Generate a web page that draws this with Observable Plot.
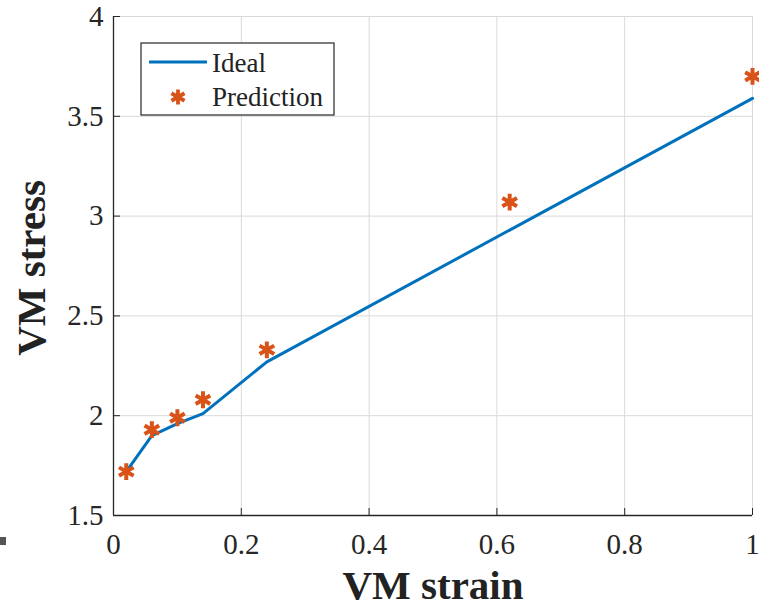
<!DOCTYPE html>
<html>
<head>
<meta charset="utf-8">
<script src="https://cdn.jsdelivr.net/npm/d3@7"></script>
<script src="https://cdn.jsdelivr.net/npm/@observablehq/plot@0.6"></script>
<style>
  body { margin: 0; background: #fff; }
  #chart { position: relative; width: 759px; height: 608px; }
  #chart svg, #chart svg text { font-family: "Liberation Serif", "DejaVu Serif", serif !important; }
  .mark { position: absolute; left: 0; top: 537px; width: 6px; height: 8px; background: #555; }
</style>
</head>
<body>
<div id="chart"><div class="mark"></div></div>
<script>
const strain = [0.02, 0.06, 0.10, 0.14, 0.24, 0.62, 1.0];
const idealStress = [1.72, 1.90, 1.96, 2.01, 2.27, 2.93, 3.59];
const predStrain = [0.02, 0.06, 0.10, 0.14, 0.24, 0.62, 1.0];
const predStress = [1.72, 1.93, 1.99, 2.08, 2.33, 3.07, 3.70];
const xTicks = [0, 0.2, 0.4, 0.6, 0.8, 1];
const yTicks = [1.5, 2, 2.5, 3, 3.5, 4];
const seriesNames = ["Ideal", "Prediction"];
const xLabel = "VM strain";
const yLabel = "VM stress";

const blue = "#0072BD";
const orange = "#D95319";

const ideal = strain.map((x, i) => ({x, y: idealStress[i]}));
const pred = predStrain.map((x, i) => ({x, y: predStress[i]}));

const plot = Plot.plot({
  width: 759,
  height: 608,
  marginLeft: 113,
  marginRight: 7,
  marginTop: 16,
  marginBottom: 93,
  style: {fontFamily: "Liberation Serif, serif", background: "white"},
  x: {domain: [0, 1]},
  y: {domain: [1.5, 4]},
  marks: [
    Plot.gridX(xTicks, {stroke: "#d9d9d9", strokeOpacity: 1, strokeWidth: 1}),
    Plot.gridY(yTicks, {stroke: "#d9d9d9", strokeOpacity: 1, strokeWidth: 1}),
    Plot.axisX({ticks: xTicks, tickSize: -7, tickFormat: d => String(d), fontSize: 29, tickPadding: 25, label: null, stroke: "#262626", color: "#262626"}),
    Plot.axisY({ticks: yTicks, tickSize: -7, tickFormat: d => String(d), fontSize: 29, tickPadding: 17, label: null, stroke: "#262626", color: "#262626"}),
    Plot.ruleX([0], {stroke: "#262626", strokeWidth: 1.3}),
    Plot.ruleY([1.5], {stroke: "#262626", strokeWidth: 1.3}),
    Plot.line(ideal, {x: "x", y: "y", stroke: blue, strokeWidth: 3}),
    Plot.dot(pred, {x: "x", y: "y", symbol: "asterisk", r: 8, stroke: orange, strokeWidth: 4}),
    Plot.text([xLabel], {frameAnchor: "bottom", dy: 83, fontSize: 41, fontWeight: "bold", fill: "#222", text: d => d}),
    Plot.text([yLabel], {frameAnchor: "left", textAnchor: "middle", dx: -82, dy: 2, rotate: -90, fontSize: 41, fontWeight: "bold", fill: "#222", text: d => d})
  ]
});
document.getElementById("chart").appendChild(plot);

// Legend drawn into the same SVG
const svg = d3.select(plot);
const g = svg.append("g").attr("transform", "translate(141,43)").attr("text-anchor", "start");
g.append("rect").attr("width", 193).attr("height", 72).attr("fill", "white").attr("stroke", "#262626").attr("stroke-width", 1.2);
g.append("line").attr("x1", 8).attr("x2", 66).attr("y1", 19).attr("y2", 19).attr("stroke", blue).attr("stroke-width", 3);
g.append("text").attr("x", 71).attr("y", 20).attr("dy", "0.35em").attr("font-size", 27).attr("fill", "#222").attr("text-anchor", "start").text(seriesNames[0]);
g.append("path").attr("d", d3.symbol(d3.symbolAsterisk, 160)()).attr("transform", "translate(37,54)").attr("fill", "none").attr("stroke", orange).attr("stroke-width", 3.8);
g.append("text").attr("x", 71).attr("y", 54).attr("dy", "0.35em").attr("font-size", 27).attr("fill", "#222").attr("text-anchor", "start").text(seriesNames[1]);
</script>
</body>
</html>
